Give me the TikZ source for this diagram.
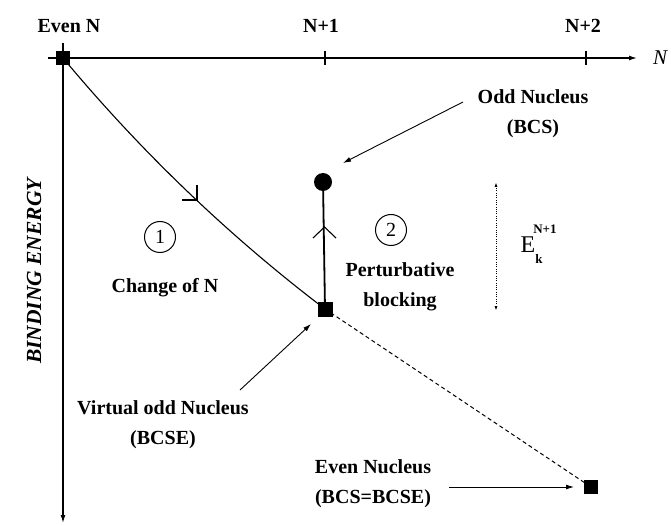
\documentclass[tikz,border=0pt]{standalone}
\usepackage{fontspec}
\setmainfont{Liberation Serif}
\usetikzlibrary{arrows.meta}
\begin{document}
\begin{tikzpicture}[x=1pt,y=-1pt,
  lbl/.style={font=\fontsize{20}{30}\selectfont\bfseries, align=center, inner sep=0pt},
  sq/.style={fill=black, minimum size=14pt, inner sep=0pt, draw=none, rectangle},
  ax/.style={line width=1.3pt},
  thinline/.style={line width=0.9pt},
  tip/.style={-{Latex[length=8pt,width=5pt]}},
  num/.style={draw, circle, line width=1pt, minimum size=31pt, inner sep=0pt, font=\fontsize{20}{20}\selectfont}]
\useasboundingbox (0,0) rectangle (671,526);

% axes
\coordinate (hx0) at (48,58);
\coordinate (hx1) at (637,58);
\coordinate (vy0) at (63,43);
\coordinate (vy1) at (63,523);
\draw[ax, tip] (hx0) -- (hx1);
\draw[ax, tip] (vy0) -- (vy1);
\draw[ax] (325,51) -- (325,65);
\draw[ax] (586,51) -- (586,65);

\node[font=\fontsize{21}{21}\selectfont\itshape, anchor=center] (Nax) at (660,58) {N};
\node[lbl] (lEven) at (69,26) {Even N};
\node[lbl] (l1) at (321,26) {N+1};
\node[lbl] (l2) at (583,26) {N+2};
\node[lbl, font=\fontsize{21.5}{22}\selectfont\bfseries\itshape, rotate=90] (be) at (34,271) {BINDING ENERGY};

% states
\node[sq] (evenN) at (63,58) {};
\node[sq, minimum size=15pt] (virt) at (325,309) {};
\node[sq] (evenNuc) at (591,487) {};
\node[circle, fill=black, minimum size=18pt, inner sep=0pt] (odd) at (323,182) {};

% paths
\draw[line width=1.1pt] (evenN.center) .. controls (142.3,153.1) and (229.6,236.5) .. (virt.center);
\draw[line width=1.1pt] (197,185) -- (197,200) -- (182,200);
\draw[line width=1.8pt] (virt.center) -- (odd.center);
\draw[line width=1.1pt] (313,238) -- (324.5,227) -- (336,238);
\draw[line width=1pt, dash pattern=on 4pt off 3pt] (virt.center) -- (evenNuc.center);

% circled numbers
\node[num] (c1) at (160,237) {1};
\node[num] (c2) at (391,230) {2};

% labels
\node[lbl] (oddL) at (533,114) {Odd Nucleus\\(BCS)};
\node[lbl] (chg) at (165,288) {Change of N};
\node[lbl] (pert) at (400,287) {Perturbative\\blocking};
\node[lbl] (virtL) at (163,425) {Virtual odd Nucleus\\(BCSE)};
\node[lbl] (evenL) at (373,484) {Even Nucleus\\(BCS=BCSE)};

% label arrows
\coordinate (a1s) at (463,102);
\coordinate (a1e) at (343,163);
\draw[thinline, tip] (a1s) -- (a1e);
\coordinate (a2s) at (240,390);
\coordinate (a2e) at (311,324);
\draw[thinline, tip] (a2s) -- (a2e);
\coordinate (a3s) at (449,487);
\coordinate (a3e) at (574,487);
\draw[thinline, tip] (a3s) -- (a3e);

% energy gap
\coordinate (g0) at (496,311);
\coordinate (g1) at (496,182);
\draw[line width=1pt, dash pattern=on 1pt off 1.3pt, {Latex[length=5pt,width=3pt]}-{Latex[length=5pt,width=3pt]}] (g0) -- (g1);
\node[font=\fontsize{24}{24}\selectfont] (E) at (528,245) {E};
\node[font=\fontsize{13}{13}\selectfont\bfseries] (Esup) at (545,229) {N+1};
\node[font=\fontsize{13}{13}\selectfont\bfseries] (Esub) at (539,259) {k};
\end{tikzpicture}
\end{document}
